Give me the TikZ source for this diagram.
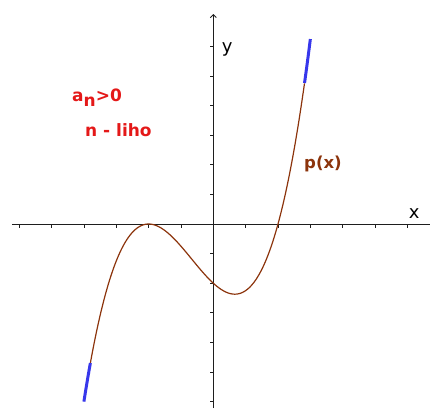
\documentclass[tikz,border=0pt]{standalone}
\usepackage{fontspec}
\setmainfont{DejaVu Sans}
\usetikzlibrary{arrows.meta}
\definecolor{redtxt}{RGB}{228,24,24}
\definecolor{curvebrown}{RGB}{140,52,12}
\definecolor{blueend}{RGB}{55,55,235}
\definecolor{axisgray}{RGB}{30,30,30}
\tikzset{
  axisline/.style={draw=axisgray, line width=0.9pt},
  tickline/.style={draw=axisgray, line width=0.7pt},
  curveline/.style={draw=curvebrown, line width=1.2pt},
  endline/.style={draw=blueend, line width=3pt},
  redlabel/.style={text=redtxt, font=\fontsize{17}{19}\selectfont\bfseries, inner sep=0pt},
  brownlabel/.style={text=curvebrown, font=\fontsize{16.5}{18}\selectfont\bfseries, inner sep=0pt},
  axislabel/.style={text=black, font=\fontsize{18}{20}\selectfont, inner sep=0pt}
}
\begin{document}
\begin{tikzpicture}[x=32.35pt,y=29.6pt]
\useasboundingbox (-213.3pt,-184pt) rectangle (216.7pt,224pt);
% axes
\coordinate (xl) at (-201.3pt,0);
\coordinate (xr) at (216.7pt,0);
\coordinate (yb) at (0,-184pt);
\coordinate (yt) at (0,210pt);
\draw[axisline] (xl) -- (xr);
\draw[axisline,-{Straight Barb[length=3pt,width=6pt]}] (yb) -- (yt);
% ticks
\foreach \i in {-6,...,-1,1,2,...,6} {
  \draw[tickline] (\i,0) -- ++(0,-3.5pt);
  \draw[tickline] (0,\i) -- ++(-3.5pt,0);
}
% curve
\draw[curveline] plot[domain=-3.8:2.82, samples=160, smooth] (\x,{(\x+2)*(\x+2)*(\x-2)/4});
\draw[endline] plot[domain=-4:-3.8, samples=10, smooth] (\x,{(\x+2)*(\x+2)*(\x-2)/4});
\draw[endline] plot[domain=2.82:3, samples=10, smooth] (\x,{(\x+2)*(\x+2)*(\x-2)/4});
% labels
\node[axislabel] (xlab) at (201pt,10pt) {x};
\node[axislabel] (ylab) at (14pt,175pt) {y};
\node[redlabel, anchor=base west] (an) at (-141.3pt,123pt) {a\raisebox{-5pt}{n}>0};
\node[redlabel, anchor=base west] (nl) at (-128.3pt,88pt) {n - liho};
\node[brownlabel, anchor=base west] (px) at (90.7pt,56pt) {p(x)};
\end{tikzpicture}
\end{document}
